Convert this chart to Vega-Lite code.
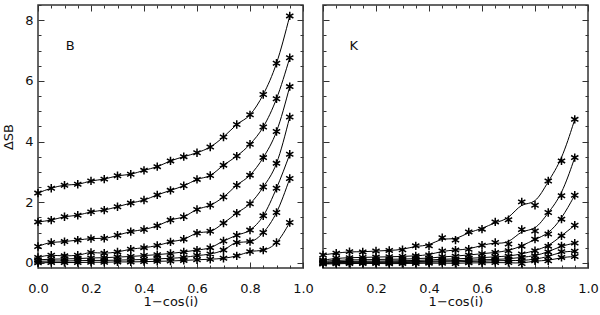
{
  "$schema": "https://vega.github.io/schema/vega-lite/v6.json",
  "background": "white",
  "padding": {"left": 1, "top": 3, "right": 0, "bottom": 0},
  "datasets": {
    "B": [
      {"x":0,"s1":2.30,"s2":1.35,"s3":0.54,"s4":0.18,"s5":0.10,"s6":0.05,"s7":0.00},
      {"x":0.05,"s1":2.46,"s2":1.41,"s3":0.67,"s4":0.25,"s5":0.12,"s6":0.06,"s7":0.01},
      {"x":0.1,"s1":2.56,"s2":1.52,"s3":0.70,"s4":0.23,"s5":0.13,"s6":0.06,"s7":0.01},
      {"x":0.15,"s1":2.59,"s2":1.57,"s3":0.75,"s4":0.25,"s5":0.14,"s6":0.07,"s7":0.01},
      {"x":0.2,"s1":2.70,"s2":1.68,"s3":0.80,"s4":0.34,"s5":0.16,"s6":0.08,"s7":0.02},
      {"x":0.25,"s1":2.76,"s2":1.74,"s3":0.81,"s4":0.32,"s5":0.17,"s6":0.08,"s7":0.02},
      {"x":0.3,"s1":2.87,"s2":1.85,"s3":0.91,"s4":0.36,"s5":0.19,"s6":0.09,"s7":0.03},
      {"x":0.35,"s1":2.92,"s2":1.97,"s3":1.03,"s4":0.45,"s5":0.21,"s6":0.10,"s7":0.03},
      {"x":0.4,"s1":3.05,"s2":2.07,"s3":1.10,"s4":0.50,"s5":0.24,"s6":0.11,"s7":0.04},
      {"x":0.45,"s1":3.17,"s2":2.24,"s3":1.22,"s4":0.57,"s5":0.27,"s6":0.13,"s7":0.05},
      {"x":0.5,"s1":3.36,"s2":2.39,"s3":1.41,"s4":0.69,"s5":0.31,"s6":0.15,"s7":0.06},
      {"x":0.55,"s1":3.50,"s2":2.54,"s3":1.52,"s4":0.78,"s5":0.36,"s6":0.18,"s7":0.08},
      {"x":0.6,"s1":3.63,"s2":2.75,"s3":1.76,"s4":0.98,"s5":0.42,"s6":0.24,"s7":0.10},
      {"x":0.65,"s1":3.82,"s2":2.88,"s3":1.90,"s4":1.04,"s5":0.50,"s6":0.29,"s7":0.12},
      {"x":0.7,"s1":4.15,"s2":3.22,"s3":2.17,"s4":1.31,"s5":0.72,"s6":0.42,"s7":0.15},
      {"x":0.75,"s1":4.56,"s2":3.52,"s3":2.56,"s4":1.64,"s5":0.91,"s6":0.67,"s7":0.23},
      {"x":0.8,"s1":4.88,"s2":3.91,"s3":2.89,"s4":1.95,"s5":1.08,"s6":0.70,"s7":0.37},
      {"x":0.85,"s1":5.55,"s2":4.48,"s3":3.47,"s4":2.50,"s5":1.55,"s6":1.00,"s7":0.42},
      {"x":0.9,"s1":6.58,"s2":5.41,"s3":4.33,"s4":3.28,"s5":2.46,"s6":1.66,"s7":0.67},
      {"x":0.95,"s1":8.14,"s2":6.76,"s3":5.81,"s4":4.81,"s5":3.58,"s6":2.78,"s7":1.33}
    ],
    "K": [
      {"x":0,"s1":0.26,"s2":0.09,"s3":0.05,"s4":0.02,"s5":0.00,"s6":-0.02,"s7":-0.04},
      {"x":0.05,"s1":0.32,"s2":0.15,"s3":0.08,"s4":0.04,"s5":0.01,"s6":-0.01,"s7":-0.03},
      {"x":0.1,"s1":0.37,"s2":0.17,"s3":0.10,"s4":0.05,"s5":0.02,"s6":0.00,"s7":-0.02},
      {"x":0.15,"s1":0.36,"s2":0.18,"s3":0.10,"s4":0.05,"s5":0.02,"s6":0.00,"s7":-0.02},
      {"x":0.2,"s1":0.39,"s2":0.19,"s3":0.11,"s4":0.06,"s5":0.03,"s6":0.01,"s7":-0.02},
      {"x":0.25,"s1":0.41,"s2":0.20,"s3":0.12,"s4":0.06,"s5":0.03,"s6":0.00,"s7":-0.03},
      {"x":0.3,"s1":0.43,"s2":0.21,"s3":0.12,"s4":0.07,"s5":0.04,"s6":0.01,"s7":-0.02},
      {"x":0.35,"s1":0.56,"s2":0.23,"s3":0.14,"s4":0.08,"s5":0.04,"s6":0.02,"s7":-0.02},
      {"x":0.4,"s1":0.56,"s2":0.26,"s3":0.15,"s4":0.09,"s5":0.05,"s6":0.02,"s7":-0.01},
      {"x":0.45,"s1":0.83,"s2":0.39,"s3":0.20,"s4":0.12,"s5":0.07,"s6":0.04,"s7":-0.01},
      {"x":0.5,"s1":0.75,"s2":0.42,"s3":0.22,"s4":0.13,"s5":0.07,"s6":0.03,"s7":-0.02},
      {"x":0.55,"s1":1.02,"s2":0.45,"s3":0.26,"s4":0.15,"s5":0.09,"s6":0.05,"s7":0.00},
      {"x":0.6,"s1":1.11,"s2":0.58,"s3":0.30,"s4":0.17,"s5":0.10,"s6":0.05,"s7":0.00},
      {"x":0.65,"s1":1.35,"s2":0.67,"s3":0.34,"s4":0.20,"s5":0.11,"s6":0.07,"s7":0.01},
      {"x":0.7,"s1":1.42,"s2":0.62,"s3":0.40,"s4":0.22,"s5":0.13,"s6":0.08,"s7":0.01},
      {"x":0.75,"s1":2.01,"s2":1.10,"s3":0.55,"s4":0.29,"s5":0.18,"s6":0.07,"s7":-0.02},
      {"x":0.8,"s1":1.90,"s2":1.05,"s3":0.78,"s4":0.40,"s5":0.23,"s6":0.12,"s7":0.07},
      {"x":0.85,"s1":2.70,"s2":1.66,"s3":0.95,"s4":0.55,"s5":0.36,"s6":0.20,"s7":0.07},
      {"x":0.9,"s1":3.36,"s2":2.21,"s3":1.44,"s4":0.89,"s5":0.56,"s6":0.37,"s7":0.18},
      {"x":0.95,"s1":4.73,"s2":3.47,"s3":2.23,"s4":1.24,"s5":0.65,"s6":0.38,"s7":0.21}
    ]
  },
  "config": {
    "view": {"stroke": "#333", "strokeWidth": 1.5},
    "axis": {"grid": false, "domain": false, "labelFont": "DejaVu Sans", "labelFontSize": 13, "labelColor": "#111", "titleFont": "DejaVu Sans", "titleFontSize": 13, "titleFontWeight": "normal", "titleColor": "#111", "tickColor": "#333", "tickWidth": 1, "labelFlush": false, "labelOverlap": false},
    "concat": {"spacing": 0}
  },
  "hconcat": [
    {
      "width": 265, "height": 263,
      "data": {"name": "B"},
      "transform": [{"fold": ["s1","s2","s3","s4","s5","s6","s7"], "as": ["s","v"]}],
      "layer": [
        {"mark": {"type": "line", "interpolate": "monotone", "color": "black", "strokeWidth": 1, "clip": true},
         "encoding": {
           "x": {"field": "x", "type": "quantitative", "scale": {"domain": [0, 1], "nice": false}, "axis": {"orient": "bottom", "values": [0,0.2,0.4,0.6,0.8,1], "format": ".1f", "tickSize": -6, "labelPadding": 20, "title": "1−cos(i)", "titlePadding": 0}},
           "y": {"field": "v", "type": "quantitative", "scale": {"domain": [-0.17, 8.5], "nice": false, "zero": false}, "axis": {"orient": "left", "values": [0,2,4,6,8], "format": "d", "tickSize": -6, "labelPadding": 11, "title": "ΔSB", "titlePadding": 9}},
           "detail": {"field": "s"}}},
        {"mark": {"type": "point", "shape": "M0,-1L0,1M-0.87,-0.5L0.87,0.5M-0.87,0.5L0.87,-0.5", "filled": false, "stroke": "black", "strokeWidth": 1.5, "size": 70, "opacity": 1},
         "encoding": {
           "x": {"field": "x", "type": "quantitative", "axis": {"orient": "top", "values": [0,0.2,0.4,0.6,0.8,1], "tickSize": -6, "labels": false, "title": null}},
           "y": {"field": "v", "type": "quantitative", "axis": {"orient": "right", "values": [0,2,4,6,8], "tickSize": -6, "labels": false, "title": null}}}},
        {"mark": {"type": "point", "opacity": 0},
         "encoding": {
           "x": {"field": "x", "type": "quantitative", "axis": {"orient": "bottom", "values": [0.05,0.1,0.15,0.25,0.3,0.35,0.45,0.5,0.55,0.65,0.7,0.75,0.85,0.9,0.95], "tickSize": -3, "labels": false, "title": null}},
           "y": {"field": "v", "type": "quantitative", "axis": {"orient": "left", "values": [0.5,1,1.5,2.5,3,3.5,4.5,5,5.5,6.5,7,7.5,8.5], "tickSize": -3, "labels": false, "title": null}}}},
        {"mark": {"type": "point", "opacity": 0},
         "encoding": {
           "x": {"field": "x", "type": "quantitative", "axis": {"orient": "top", "values": [0.05,0.1,0.15,0.25,0.3,0.35,0.45,0.5,0.55,0.65,0.7,0.75,0.85,0.9,0.95], "tickSize": -3, "labels": false, "title": null}},
           "y": {"field": "v", "type": "quantitative", "axis": {"orient": "right", "values": [0.5,1,1.5,2.5,3,3.5,4.5,5,5.5,6.5,7,7.5,8.5], "tickSize": -3, "labels": false, "title": null}}}},
        {"data": {"values": [{"label": "B"}]},
         "mark": {"type": "text", "font": "DejaVu Sans", "fontSize": 13, "align": "left", "baseline": "middle", "color": "#111"},
         "encoding": {
           "text": {"field": "label"},
           "x": {"datum": 0.105, "type": "quantitative", "axis": null},
           "y": {"datum": 7.15, "type": "quantitative", "axis": null}}}
      ],
      "resolve": {"axis": {"x": "independent", "y": "independent"}}
    },
    {
      "width": 265, "height": 263,
      "data": {"name": "K"},
      "transform": [{"fold": ["s1","s2","s3","s4","s5","s6","s7"], "as": ["s","v"]}],
      "layer": [
        {"mark": {"type": "line", "interpolate": "basis", "color": "black", "strokeWidth": 1, "clip": true},
         "encoding": {
           "x": {"field": "x", "type": "quantitative", "scale": {"domain": [0, 1], "nice": false}, "axis": {"orient": "bottom", "values": [0.2,0.4,0.6,0.8,1], "format": ".1f", "tickSize": -6, "labelPadding": 20, "title": "1−cos(i)", "titlePadding": 0}},
           "y": {"field": "v", "type": "quantitative", "scale": {"domain": [-0.17, 8.5], "nice": false, "zero": false}, "axis": {"orient": "left", "values": [0,2,4,6,8], "tickSize": -6, "labels": false, "title": null}},
           "detail": {"field": "s"}}},
        {"mark": {"type": "point", "shape": "M0,-1L0,1M-0.87,-0.5L0.87,0.5M-0.87,0.5L0.87,-0.5", "filled": false, "stroke": "black", "strokeWidth": 1.5, "size": 70, "opacity": 1},
         "encoding": {
           "x": {"field": "x", "type": "quantitative", "axis": {"orient": "top", "values": [0,0.2,0.4,0.6,0.8,1], "tickSize": -6, "labels": false, "title": null}},
           "y": {"field": "v", "type": "quantitative", "axis": {"orient": "right", "values": [0,2,4,6,8], "tickSize": -6, "labels": false, "title": null}}}},
        {"mark": {"type": "point", "opacity": 0},
         "encoding": {
           "x": {"field": "x", "type": "quantitative", "axis": {"orient": "bottom", "values": [0.05,0.1,0.15,0.25,0.3,0.35,0.45,0.5,0.55,0.65,0.7,0.75,0.85,0.9,0.95], "tickSize": -3, "labels": false, "title": null}},
           "y": {"field": "v", "type": "quantitative", "axis": {"orient": "left", "values": [0.5,1,1.5,2.5,3,3.5,4.5,5,5.5,6.5,7,7.5,8.5], "tickSize": -3, "labels": false, "title": null}}}},
        {"mark": {"type": "point", "opacity": 0},
         "encoding": {
           "x": {"field": "x", "type": "quantitative", "axis": {"orient": "top", "values": [0.05,0.1,0.15,0.25,0.3,0.35,0.45,0.5,0.55,0.65,0.7,0.75,0.85,0.9,0.95], "tickSize": -3, "labels": false, "title": null}},
           "y": {"field": "v", "type": "quantitative", "axis": {"orient": "right", "values": [0.5,1,1.5,2.5,3,3.5,4.5,5,5.5,6.5,7,7.5,8.5], "tickSize": -3, "labels": false, "title": null}}}},
        {"data": {"values": [{"label": "K"}]},
         "mark": {"type": "text", "font": "DejaVu Sans", "fontSize": 13, "align": "left", "baseline": "middle", "color": "#111"},
         "encoding": {
           "text": {"field": "label"},
           "x": {"datum": 0.1, "type": "quantitative", "axis": null},
           "y": {"datum": 7.15, "type": "quantitative", "axis": null}}}
      ],
      "resolve": {"axis": {"x": "independent", "y": "independent"}}
    }
  ]
}
